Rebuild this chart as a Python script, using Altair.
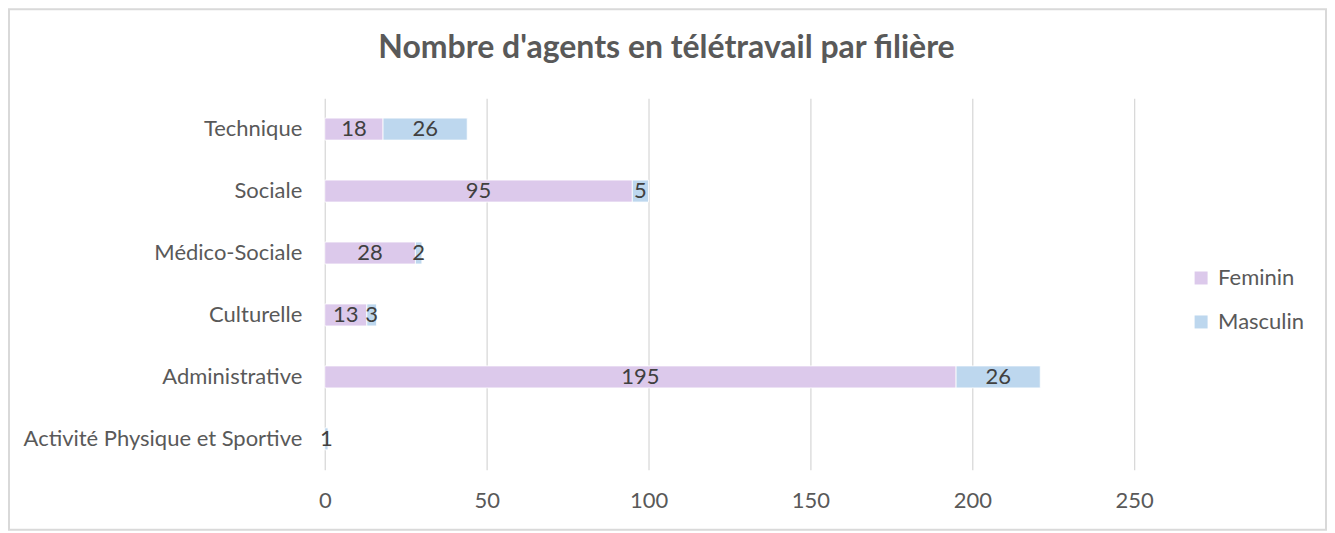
import altair as alt
import pandas as pd

categories = ["Technique", "Sociale", "Médico-Sociale", "Culturelle",
              "Administrative", "Activité Physique et Sportive"]
feminin = [18, 95, 28, 13, 195, 0]
masculin = [26, 5, 2, 3, 26, 1]
series = ["Feminin", "Masculin"]
colors = ["#DCC9EB", "#BDD7EE"]
x_ticks = [0, 50, 100, 150, 200, 250]
title_text = "Nombre d'agents en télétravail par filière"

rows = []
for cat, f, m in zip(categories, feminin, masculin):
    start = 0
    for s, v in zip(series, [f, m]):
        rows.append({"filiere": cat, "sexe": s, "valeur": v,
                     "debut": start, "fin": start + v,
                     "milieu": start + v / 2, "ordre": series.index(s)})
        start += v
df = pd.DataFrame(rows)

FONT = "Lato"
GREY = "#595959"

y_enc = alt.Y("filiere:N", sort=categories,
              scale=alt.Scale(paddingInner=0, paddingOuter=0),
              axis=alt.Axis(title=None, labelFont=FONT, labelFontSize=22,
                            labelColor=GREY, labelLimit=400, ticks=False,
                            tickSize=0, domain=False, labelPadding=23,
                            grid=False))
x_scale = alt.Scale(domain=[0, 250], nice=False)

bars = alt.Chart(df).mark_bar(size=22, stroke="white", strokeWidth=0.8).encode(
    x=alt.X("debut:Q", scale=x_scale,
            axis=alt.Axis(title=None, values=x_ticks, labelFont=FONT,
                          labelFontSize=22, labelColor=GREY, ticks=False,
                          tickSize=0, domain=False, labelPadding=21,
                          labelFlush=False,
                          grid=True, gridColor="#D9D9D9", gridWidth=1.3)),
    x2="fin:Q",
    y=y_enc,
    color=alt.Color("sexe:N", scale=alt.Scale(domain=series, range=colors),
                    legend=alt.Legend(title=None, orient="none",
                                      legendX=866, legendY=169,
                                      labelFont=FONT, labelFontSize=22,
                                      labelColor=GREY, symbolType="square",
                                      symbolSize=169, symbolStrokeWidth=0,
                                      rowPadding=22, labelOffset=6)),
    order="ordre:Q",
)

labels = alt.Chart(df).transform_filter("datum.valeur > 0").mark_text(
    font=FONT, fontSize=22, color="#404040", baseline="middle", align="center"
).encode(
    x=alt.X("milieu:Q", scale=x_scale),
    y=alt.Y("filiere:N", sort=categories),
    text="valeur:Q",
)

border = alt.Chart(pd.DataFrame({"a": [0]})).mark_rect(
    fill=None, stroke="#D9D9D9", strokeWidth=2
).encode(
    x=alt.value(-316), x2=alt.value(1002),
    y=alt.value(-89), y2=alt.value(432),
)

title = alt.Chart(pd.DataFrame({"t": [title_text]})).mark_text(
    font=FONT, fontSize=32, fontWeight="bold", color=GREY,
    align="center", baseline="alphabetic"
).encode(
    text="t:N", x=alt.value(342), y=alt.value(-40),
)

chart = alt.layer(border, bars, labels, title).properties(
    width=810, height=372,
    background="white",
    padding={"left": 317, "top": 90, "right": 193, "bottom": 61},
    autosize=alt.AutoSizeParams(type="none"),
).configure_view(stroke=None, strokeWidth=0)

chart.save("out.html", embed_options={"renderer": "svg", "actions": False})
